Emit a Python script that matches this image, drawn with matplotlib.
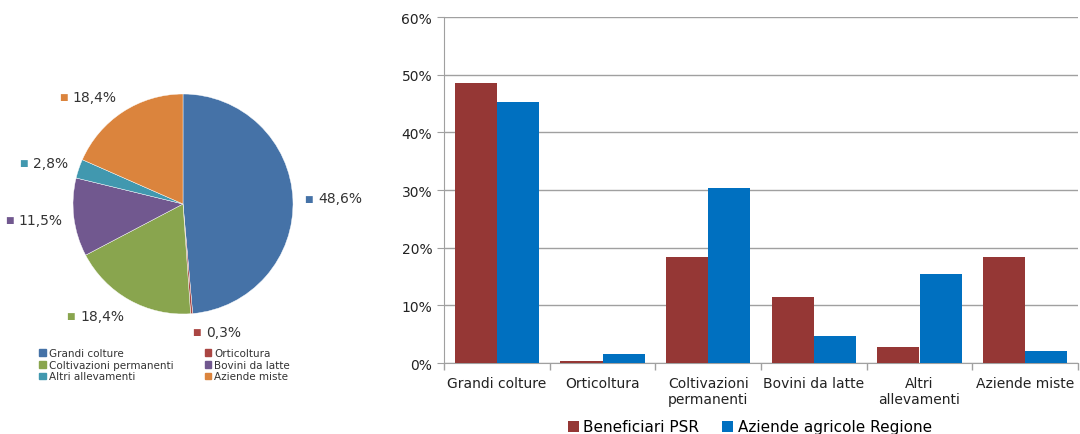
import matplotlib.pyplot as plt
import numpy as np
from matplotlib.ticker import FuncFormatter, FixedLocator
from matplotlib.offsetbox import TextArea, HPacker, AnnotationBbox

# Dati
categorie = ["Grandi colture", "Orticoltura", "Coltivazioni permanenti",
             "Bovini da latte", "Altri allevamenti", "Aziende miste"]
etichette_x = ["Grandi colture", "Orticoltura", "Coltivazioni\npermanenti",
               "Bovini da latte", "Altri\nallevamenti", "Aziende miste"]
beneficiari_psr = [48.6, 0.3, 18.4, 11.5, 2.8, 18.4]
aziende_regione = [45.3, 1.6, 30.3, 4.7, 15.4, 2.1]

colori_torta = ["#4572A7", "#AA4643", "#89A54E", "#71588F", "#4198AF", "#DB843D"]
col_psr = "#953735"
col_reg = "#0070C0"

plt.rcParams['font.family'] = ['DejaVu Sans']

fig = plt.figure(figsize=(10.8, 4.35), dpi=100)
W, H = 1080, 435

# --- Torta ---
axp = fig.add_axes([7 / W, 1 - 381 / H, 352 / W, 352 / H])
wedges, _ = axp.pie(beneficiari_psr, colors=colori_torta, startangle=90,
                    counterclock=False, radius=1.0,
                    wedgeprops=dict(linewidth=0.3, edgecolor='white'))
axp.set_xlim(-1.6, 1.6)
axp.set_ylim(-1.6, 1.6)
axp.set_aspect('equal')
axp.axis('off')

# etichette stile Excel: quadratino colorato + valore
for w, val, c in zip(wedges, beneficiari_psr, colori_torta):
    ang = np.deg2rad((w.theta1 + w.theta2) / 2)
    r = 1.1
    x, y = r * np.cos(ang), r * np.sin(ang)
    testo = f"{val:.1f}%".replace(".", ",")
    gruppo = HPacker(children=[
        TextArea("■", textprops=dict(color=c, fontsize=6.5)),
        TextArea(testo, textprops=dict(color='#333333', fontsize=10)),
    ], align='center', pad=0, sep=4)
    ha = 0.0 if np.cos(ang) >= 0 else 1.0
    va = 0.5 - 0.5 * np.sin(ang)
    ab = AnnotationBbox(gruppo, (x, y), box_alignment=(ha, va),
                        frameon=False, pad=0)
    axp.add_artist(ab)

handles_p = [plt.Rectangle((0, 0), 1, 1, color=c) for c in colori_torta]
ordine = [0, 2, 4, 1, 3, 5]
fig.legend([handles_p[i] for i in ordine], [categorie[i] for i in ordine],
           loc='upper left', bbox_to_anchor=(30 / W, 1 - 340 / H), ncol=2,
           frameon=False, fontsize=7.5, handlelength=0.6, handleheight=0.6,
           handletextpad=0.3, columnspacing=3.0, labelspacing=0.15,
           labelcolor='#333333')

# --- Barre ---
axb = fig.add_axes([444 / W, 1 - 364 / H, 634 / W, 346 / H])
x = np.arange(len(categorie))
larg = 0.4
axb.bar(x - larg / 2, beneficiari_psr, larg, color=col_psr, label="Beneficiari PSR", zorder=3)
axb.bar(x + larg / 2, aziende_regione, larg, color=col_reg, label="Aziende agricole Regione", zorder=3)

axb.set_xlim(-0.5, len(categorie) - 0.5)
axb.set_ylim(0, 60)
axb.set_yticks(np.arange(0, 61, 10))
axb.yaxis.set_major_formatter(FuncFormatter(lambda v, p: f"{v:.0f}%"))
axb.set_xticks(x)
axb.set_xticklabels(etichette_x, fontsize=10, color='#222222')
axb.tick_params(axis='x', which='major', length=0, pad=9)
axb.xaxis.set_minor_locator(FixedLocator(np.arange(-0.5, len(categorie), 1.0)))
axb.tick_params(axis='x', which='minor', length=5, color='#a0a0a0', width=1)
axb.tick_params(axis='y', length=5, color='#a0a0a0', labelsize=10, labelcolor='#222222')
axb.grid(axis='y', color='#a0a0a0', linewidth=1, zorder=0)
for s in ['top', 'right']:
    axb.spines[s].set_visible(False)
for s in ['left', 'bottom']:
    axb.spines[s].set_color('#a0a0a0')

fig.legend(loc='center', bbox_to_anchor=(750 / W, 1 - 428 / H), ncol=2,
           frameon=False, fontsize=11, handlelength=0.7, handleheight=0.7,
           handletextpad=0.3, columnspacing=1.5)

fig.savefig("out.png", dpi=100)
